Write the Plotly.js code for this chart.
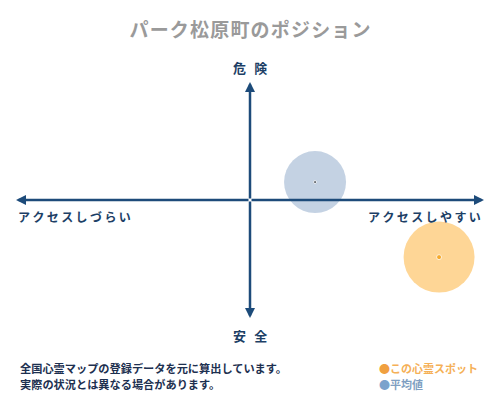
<!DOCTYPE html>
<html>
<head>
<meta charset="utf-8">
<script src="https://cdn.plot.ly/plotly-3.0.1.min.js"></script>
<style>
  body { margin: 0; background: #fff; }
  #chart { width: 500px; height: 400px; }
</style>
</head>
<body>
<div id="chart"></div>
<script>
// data
let pointNames = ['平均値', 'この心霊スポット'];
let accessValues = [1.39, 4.04];   // x: アクセスしづらい(-) ... アクセスしやすい(+)
let dangerValues = [0.76, -2.42];  // y: 安全(-) ... 危険(+)

let axisLabels = {
    top: '危 険',
    bottom: '安 全',
    left: 'アクセスしづらい',
    right: 'アクセスしやすい'
};
let titleText = 'パーク松原町のポジション';
let noteLines = ['全国心霊マップの登録データを元に算出しています。', '実際の状況とは異なる場合があります。'];

let jpFont = '"Noto Sans CJK JP", "Noto Sans", sans-serif';
let navy = '#1d4b7a';

let chart = document.getElementById('chart');

// a bit of letter spacing, the reference text is spread out
function spaced(text, sep) {
    return Array.from(text).join(sep);
}

let circles = {
    type: 'scatter',
    mode: 'markers',
    x: accessValues,
    y: dangerValues,
    text: pointNames,
    marker: {
        size: [62, 71],
        color: ['#abbfd7', '#fdc46a'],
        line: {width: 0}
    },
    hoverinfo: 'text'
};

let centres = {
    type: 'scatter',
    mode: 'markers',
    x: accessValues,
    y: dangerValues,
    marker: {size: [3, 5], color: ['#222222', '#f39800']},
    hoverinfo: 'skip'
};

// arrows from the origin out to each end
function arrow(x, y) {
    return {
        x: x, y: y, ax: 0, ay: 0,
        xref: 'x', yref: 'y', axref: 'x', ayref: 'y',
        text: '', showarrow: true,
        arrowhead: 2, arrowsize: 0.8, arrowwidth: 2.5, arrowcolor: navy
    };
}

function label(text, x, y, size, color, anchor) {
    return {
        text: text, x: x, y: y, xref: 'paper', yref: 'paper',
        xanchor: anchor || 'center', yanchor: 'middle', showarrow: false,
        font: {family: jpFont, size: size, color: color, weight: 'bold'}
    };
}

// paper coords: plot area spans x 16..484, y 82..318 (px)
function px(xp) { return (xp - 16) / 468; }
function py(yp) { return (318 - yp) / 236; }

let annotations = [
    arrow(5, 0), arrow(-5, 0), arrow(0, 5), arrow(0, -5),
    label(spaced(axisLabels.top, '\u2009'), px(250), py(68), 13, '#1d3f66'),
    label(spaced(axisLabels.bottom, '\u2009'), px(250), py(335), 13, '#1d3f66'),
    label(spaced(axisLabels.left, '\u2009'), px(16), py(216), 12, '#1d3f66', 'left'),
    label(spaced(axisLabels.right, '\u2009'), px(483), py(216), 12, '#1d3f66', 'right'),
    label(noteLines[0], px(18), py(368), 11.2, '#1d3050', 'left'),
    label(noteLines[1], px(18), py(384), 11.2, '#1d3050', 'left'),
    label('<span style="color:#f0a040">●</span>' + pointNames[1], px(377), py(368), 11, '#f5b057', 'left'),
    label('<span style="color:#7ba3cc">●</span>' + pointNames[0], px(377), py(384), 11, '#7f9fc2', 'left')
];

let layout = {
    width: 500,
    height: 400,
    margin: {l: 16, r: 16, t: 82, b: 82},
    paper_bgcolor: '#ffffff',
    plot_bgcolor: '#ffffff',
    showlegend: false,
    title: {
        text: spaced(titleText, '\u200A'),
        x: 0.5, xanchor: 'center',
        y: 1 - 30 / 400, yanchor: 'middle',
        font: {family: jpFont, size: 19, color: '#9a9a9a', weight: 'bold'}
    },
    xaxis: {range: [-5, 5], visible: false, fixedrange: true},
    yaxis: {range: [-5, 5], visible: false, fixedrange: true},
    annotations: annotations
};

Plotly.newPlot(chart, [circles, centres], layout, {displayModeBar: false, staticPlot: true});
</script>
</body>
</html>
